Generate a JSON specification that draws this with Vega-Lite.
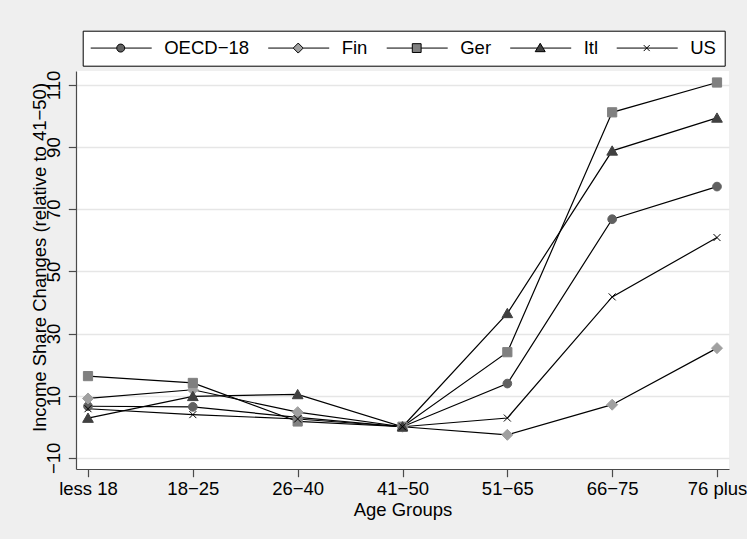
{
  "$schema": "https://vega.github.io/schema/vega-lite/v6.json",
  "width": 653,
  "height": 398,
  "autosize": {"type": "none"},
  "padding": {"left": 76, "top": 71, "right": 18, "bottom": 70},
  "background": "#efefef",
  "config": {"view": {"fill": "white", "stroke": null}, "font": "Liberation Sans"},
  "data": {"values": [
    {"s": "OECD−18", "age": "less 18", "v": 6.6},
    {"s": "OECD−18", "age": "18−25", "v": 6.4},
    {"s": "OECD−18", "age": "26−40", "v": 3.0},
    {"s": "OECD−18", "age": "41−50", "v": 0},
    {"s": "OECD−18", "age": "51−65", "v": 13.9},
    {"s": "OECD−18", "age": "66−75", "v": 66.8},
    {"s": "OECD−18", "age": "76 plus", "v": 77.3},
    {"s": "Fin", "age": "less 18", "v": 9.1},
    {"s": "Fin", "age": "18−25", "v": 11.9},
    {"s": "Fin", "age": "26−40", "v": 4.7},
    {"s": "Fin", "age": "41−50", "v": 0},
    {"s": "Fin", "age": "51−65", "v": -2.6},
    {"s": "Fin", "age": "66−75", "v": 7.1},
    {"s": "Fin", "age": "76 plus", "v": 25.3},
    {"s": "Ger", "age": "less 18", "v": 16.3},
    {"s": "Ger", "age": "18−25", "v": 14.1},
    {"s": "Ger", "age": "26−40", "v": 1.7},
    {"s": "Ger", "age": "41−50", "v": 0},
    {"s": "Ger", "age": "51−65", "v": 24.0},
    {"s": "Ger", "age": "66−75", "v": 101.2},
    {"s": "Ger", "age": "76 plus", "v": 110.8},
    {"s": "Itl", "age": "less 18", "v": 2.8},
    {"s": "Itl", "age": "18−25", "v": 9.8},
    {"s": "Itl", "age": "26−40", "v": 10.4},
    {"s": "Itl", "age": "41−50", "v": 0},
    {"s": "Itl", "age": "51−65", "v": 36.5},
    {"s": "Itl", "age": "66−75", "v": 88.8},
    {"s": "Itl", "age": "76 plus", "v": 99.4},
    {"s": "US", "age": "less 18", "v": 5.8},
    {"s": "US", "age": "18−25", "v": 3.9},
    {"s": "US", "age": "26−40", "v": 2.5},
    {"s": "US", "age": "41−50", "v": 0},
    {"s": "US", "age": "51−65", "v": 2.8},
    {"s": "US", "age": "66−75", "v": 41.8},
    {"s": "US", "age": "76 plus", "v": 60.9}
  ]},
  "encoding": {
    "x": {
      "field": "age", "type": "ordinal",
      "sort": ["less 18", "18−25", "26−40", "41−50", "51−65", "66−75", "76 plus"],
      "scale": {"type": "point", "padding": 0.1145},
      "axis": {
        "title": "Age Groups", "titleFontSize": 18.5, "titleFontWeight": "normal", "titleColor": "black",
        "titleY": 46, "titleBaseline": "alphabetic",
        "labelAngle": 0, "labelFontSize": 18.5, "labelColor": "black", "labelPadding": 3, "labelBaseline": "top",
        "labelFlush": false, "labelOverlap": false,
        "tickSize": 7.7, "tickColor": "#4a4a4a", "domainColor": "#4a4a4a", "domainWidth": 1.2, "tickWidth": 1.2,
        "grid": false
      }
    },
    "y": {
      "field": "v", "type": "quantitative",
      "scale": {"domain": [-13.6, 114.5], "nice": false, "zero": false},
      "axis": {
        "values": [-10, 10, 30, 50, 70, 90, 110],
        "title": "Income Share Changes (relative to 41−50)", "titleFontSize": 18.5, "titleFontWeight": "normal", "titleColor": "black",
        "titleAngle": 270, "titleX": -31, "titleY": 186, "titleAlign": "center", "titleBaseline": "alphabetic",
        "labelAngle": 270, "labelAlign": "center", "labelBaseline": "alphabetic", "labelPadding": 9,
        "labelFontSize": 18.5, "labelColor": "black", "labelFlush": false, "labelOverlap": false,
        "tickSize": 7.7, "tickColor": "#4a4a4a", "domainColor": "#4a4a4a", "domainWidth": 1.2, "tickWidth": 1.2,
        "grid": true, "gridColor": "#e6e6e6", "gridWidth": 1.5
      }
    }
  },
  "layer": [
    {
      "mark": {"type": "line", "color": "black", "strokeWidth": 1.2},
      "encoding": {"detail": {"field": "s"}}
    },
    {
      "mark": {"type": "point", "filled": true, "size": 100, "opacity": 1, "strokeWidth": 1},
      "encoding": {
        "shape": {
          "field": "s",
          "scale": {
            "domain": ["OECD−18", "Fin", "Ger", "Itl", "US"],
            "range": [
              "M0.87,0A0.87,0.87,0,1,1,-0.87,0A0.87,0.87,0,1,1,0.87,0Z",
              "M0,-1.1L1.1,0L0,1.1L-1.1,0Z",
              "M-0.92,-0.92H0.92V0.92H-0.92Z",
              "M0,-1.0L1.07,0.86L-1.07,0.86Z",
              "M-0.7,-0.7L0.7,0.7M-0.7,0.7L0.7,-0.7"
            ]
          },
          "legend": null
        },
        "fill": {
          "field": "s",
          "scale": {"domain": ["OECD−18", "Fin", "Ger", "Itl", "US"], "range": ["#606060", "#a0a0a0", "#808080", "#404040", "#000000"]},
          "legend": null
        },
        "stroke": {
          "field": "s",
          "scale": {"domain": ["OECD−18", "Fin", "Ger", "Itl", "US"], "range": ["#606060", "#a0a0a0", "#808080", "#404040", "#000000"]},
          "legend": null
        }
      }
    },
    {
      "mark": {"type": "point", "filled": true, "size": 64, "opacity": 0, "stroke": "black", "strokeWidth": 1},
      "encoding": {
        "shape": {
          "field": "s",
          "scale": {
            "domain": ["OECD−18", "Fin", "Ger", "Itl", "US"],
            "range": [
              "M-2.31,0H4.19M6.19,0H12.94M6.19,0A1,1,0,1,1,4.19,0A1,1,0,1,1,6.19,0Z",
              "M-2.31,0H3.94M6.44,0H12.94M5.19,-1.25L6.44,0L5.19,1.25L3.94,0Z",
              "M-2.31,0H4.09M6.29,0H12.94M4.09,-1.1H6.29V1.1H4.09Z",
              "M-2.31,0H4.48M5.9,0H12.94M5.19,-1.2L6.44,0.9L3.94,0.9Z",
              "M-2.31,0H12.94M4.44,-0.75L5.94,0.75M4.44,0.75L5.94,-0.75"
            ]
          },
          "legend": {
            "orient": "none", "legendX": 6.7, "legendY": -40.3, "direction": "horizontal", "columns": 5,
            "title": null, "strokeColor": "black", "fillColor": "white", "padding": 8, "columnPadding": 16.5,
            "symbolSize": 64, "symbolStrokeColor": "black", "symbolStrokeWidth": 1, "symbolOpacity": 1,
            "labelOffset": 55, "labelFontSize": 18.5, "labelColor": "black", "labelLimit": 300,
            "encode": {"symbols": {"update": {"stroke": {"value": "black"}, "strokeWidth": {"value": 1}, "opacity": {"value": 1}}}}
          }
        },
        "fill": {
          "field": "s",
          "scale": {"domain": ["OECD−18", "Fin", "Ger", "Itl", "US"], "range": ["#606060", "#a0a0a0", "#808080", "#404040", "#000000"]},
          "legend": {
            "orient": "none", "legendX": 6.7, "legendY": -40.3, "direction": "horizontal", "columns": 5,
            "title": null, "strokeColor": "black", "fillColor": "white", "padding": 8, "columnPadding": 16.5,
            "symbolSize": 64, "symbolStrokeColor": "black", "symbolStrokeWidth": 1, "symbolOpacity": 1,
            "labelOffset": 55, "labelFontSize": 18.5, "labelColor": "black", "labelLimit": 300,
            "encode": {"symbols": {"update": {"stroke": {"value": "black"}, "strokeWidth": {"value": 1}, "opacity": {"value": 1}}}}
          }
        }
      }
    }
  ],
  "resolve": {"scale": {"shape": "independent", "fill": "independent", "stroke": "independent"}}
}
